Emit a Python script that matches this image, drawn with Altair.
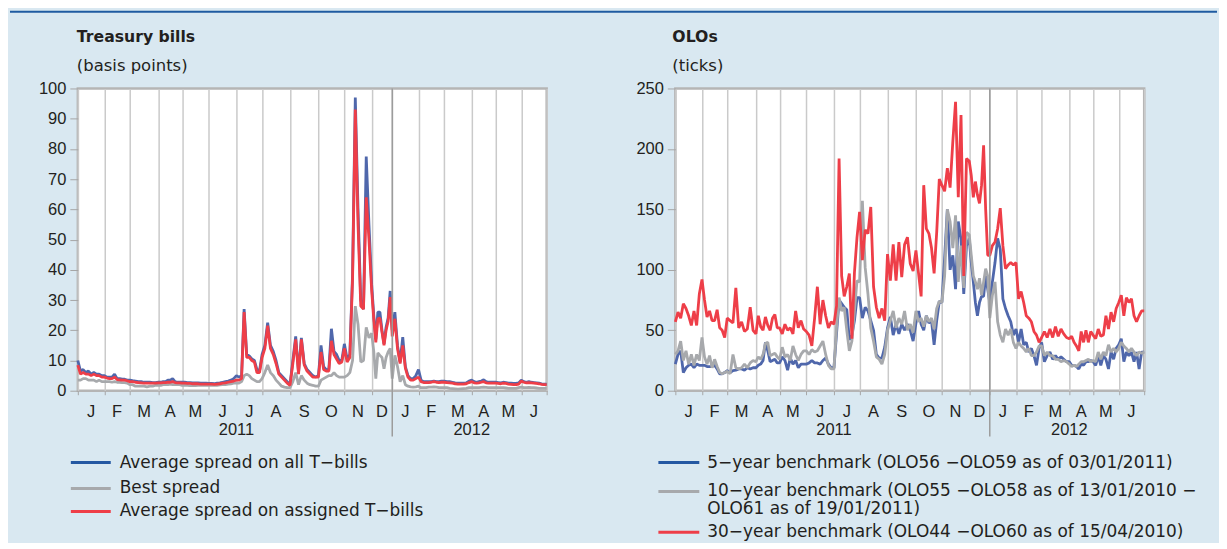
import altair as alt
import pandas as pd

# ---------------- data ----------------
MONTH_LABELS = ["J", "F", "M", "A", "M", "J", "J", "A", "S", "O", "N", "D",
                "J", "F", "M", "A", "M", "J"]
YEAR_LABELS = ["2011", "2012"]
YEAR_LABEL_DATES = ["2011-07-01", "2012-04-01"]
YEAR_BREAK = ["2012-01-01"]

LEFT_TITLE = "Treasury bills"
LEFT_UNIT = "(basis points)"
RIGHT_TITLE = "OLOs"
RIGHT_UNIT = "(ticks)"

LEFT_LEGEND = ["Average spread on all T\u2212bills", "Best spread",
               "Average spread on assigned T\u2212bills"]
RIGHT_LEGEND = ["5\u2212year benchmark (OLO56 \u2212OLO59 as of 03/01/2011)",
                "10\u2212year benchmark (OLO55 \u2212OLO58 as of 13/01/2010 \u2212",
                "OLO61 as of 19/01/2011)",
                "30\u2212year benchmark (OLO44 \u2212OLO60 as of 15/04/2010)"]

# 10 readings per month, Jan 2011 .. Jun 2012, plus the final reading
TB_AVERAGE = [
    10, 6.5, 7, 6, 6.5, 5.5, 6, 5.5, 5.5, 5,
    5, 4.5, 4.5, 4.5, 5.5, 4, 4, 3.8, 3.8, 3.5,
    3.5, 3.3, 3.2, 3, 3, 2.8, 2.8, 2.8, 2.7, 2.7,
    2.8, 2.8, 3, 3, 3.5, 3.5, 4, 3, 2.8, 2.8,
    2.8, 2.8, 2.7, 2.7, 2.6, 2.6, 2.6, 2.5, 2.5, 2.5,
    2.4, 2.4, 2.3, 2.5, 2.6, 2.8, 3, 3.2, 3.5, 4,
    5, 4.5, 5, 27, 12, 11.5, 10.5, 10, 7, 6.5,
    12, 15, 22.5, 15, 13, 10, 6, 5, 4, 3,
    2, 10, 18, 6, 17.5, 9, 7, 6, 5, 4.5,
    5, 15, 8, 7, 7, 20.5, 13, 12, 10, 10,
    15.5, 10.5, 12, 38.6, 97, 60, 30, 27, 77.5, 55,
    35, 25, 17, 26, 26, 20, 15.5, 21, 24, 33,
    20, 26, 15, 9.5, 17.7, 8, 5, 4, 4, 5,
    7, 3.5, 3, 3, 3, 3, 3.2, 3, 3, 3.2,
    3.2, 3, 3, 2.8, 2.6, 2.5, 2.5, 2.5, 2.6, 3.2,
    3.5, 3, 2.8, 3, 3.2, 3.6, 3, 2.8, 2.8, 2.8,
    2.8, 2.7, 2.6, 2.8, 2.7, 2.5, 2.5, 2.4, 2.4, 2.6,
    3.5, 3, 2.8, 3, 2.8, 2.7, 2.6, 2.5, 2.3, 2.2,
    2.2,
]
TB_BEST = [
    3.5, 3.5, 4, 4, 3.5, 3.5, 3.5, 3, 3.5, 3,
    3, 3, 3, 2.8, 3, 2.8, 2.8, 2.7, 2.7, 2.5,
    2, 2, 1.5, 1.5, 1.5, 1.5, 1.3, 1.5, 1.5, 1.8,
    1.8, 1.8, 2, 2, 2, 2.2, 2, 2, 2, 2,
    1.8, 1.8, 1.8, 1.7, 1.7, 1.7, 1.8, 1.8, 1.8, 1.8,
    1.8, 1.8, 1.8, 1.8, 1.9, 2, 2, 2.2, 2.3, 2.5,
    2.5, 2.5, 3, 5, 5.5, 5, 4, 3.5, 3, 3,
    4, 6, 8.5, 6, 5, 3.5, 2.5, 1.5, 1.2, 1,
    1, 3, 6, 2, 5, 3.5, 2.5, 2, 1.8, 1.5,
    1.5, 3.5, 4, 4.5, 5, 5, 6, 5, 4.5, 4.5,
    4.5, 5, 6, 10, 28, 22, 9.5, 10, 21, 17.5,
    19, 13, 4, 12.5, 11.7, 11, 7.3, 11, 12.8, 14,
    4, 11.7, 8, 3, 5, 2, 1.5, 1.3, 1.2, 1.3,
    1.5, 1, 1, 1, 1.2, 1.2, 1.3, 1.2, 1, 1,
    1, 1, 0.8, 0.7, 0.6, 0.5, 0.6, 0.7, 0.8, 1,
    1, 1, 1, 1, 1.1, 1.2, 1.1, 1, 1, 1,
    1, 1, 1, 1, 0.9, 0.8, 0.8, 0.8, 0.8, 1,
    1.2, 1, 1, 1.1, 1, 1, 0.9, 0.8, 0.8, 0.8,
    0.8,
]
TB_ASSIGNED = [
    8.5, 5.5, 6, 5.5, 5.5, 5, 5.5, 5, 5, 4.5,
    4.5, 4.2, 4, 4, 4.5, 3.7, 3.6, 3.5, 3.5, 3.3,
    3, 3, 2.8, 2.7, 2.6, 2.5, 2.5, 2.5, 2.5, 2.5,
    2.6, 2.6, 2.7, 2.7, 2.8, 2.8, 3, 2.7, 2.6, 2.6,
    2.5, 2.5, 2.4, 2.4, 2.3, 2.3, 2.3, 2.2, 2.2, 2.2,
    2.2, 2.2, 2.1, 2.2, 2.3, 2.5, 2.6, 2.8, 3, 3.2,
    3.5, 3.5, 4, 26, 11, 11, 10, 9.5, 6, 6,
    11, 14, 21.5, 14, 12, 9, 5.5, 4.5, 3.5, 2.5,
    1.8, 9, 17, 5.5, 17, 8.5, 6.5, 5.5, 4.5, 4.5,
    4.5, 12.8, 7, 6.5, 6.5, 16.5, 12, 10.5, 9, 9.5,
    14, 9.5, 11, 37, 93, 55, 28, 27, 64, 50,
    33, 23.8, 16, 23.8, 24, 19.4, 15, 20, 23, 31,
    18, 23.8, 14, 9, 15, 7.5, 4.5, 3.5, 3.5, 4,
    4.5, 3, 2.7, 2.7, 2.7, 2.8, 3, 2.8, 2.7, 2.8,
    2.8, 2.7, 2.6, 2.5, 2.3, 2.2, 2.2, 2.2, 2.3, 2.7,
    3, 2.6, 2.5, 2.6, 2.8, 3, 2.6, 2.5, 2.5, 2.5,
    2.5, 2.4, 2.3, 2.5, 2.4, 2.2, 2.1, 2, 2, 2.2,
    3.2, 2.8, 2.6, 2.7, 2.6, 2.5, 2.4, 2.3, 2.1, 2,
    2,
]
OLO_5Y = [
    22, 30, 33, 15, 19, 21, 22, 19, 22, 21,
    21, 21, 20, 20, 20, 21, 18, 14, 14, 15,
    16.6, 15, 16.6, 17, 18, 18, 17, 19, 18, 19,
    19, 21, 22, 25, 40, 33, 24, 25, 26, 23,
    23, 28, 25, 17, 27, 22, 25, 19, 22, 22,
    22, 23, 25, 23, 23, 22, 25, 27, 22, 19,
    19, 47, 75, 72, 69, 67, 42, 46, 58, 77,
    77, 60, 69, 66, 58, 50, 30, 27, 27, 36,
    52, 61, 46, 55, 47, 55, 50, 55, 50, 41,
    56, 66, 55, 50, 62, 56, 58, 38, 58, 74,
    73, 110, 150, 100, 112, 84, 140, 125, 80, 120,
    126, 106, 90, 73, 62, 73, 78, 78, 95, 84,
    73, 90, 106, 126, 117, 76, 68, 62, 57, 46,
    51, 40, 51, 38, 40, 32, 35, 29, 21, 35,
    40, 24, 29, 32, 26, 29, 26, 28, 26, 24,
    24, 21, 21, 20, 18, 22, 21, 24, 24, 25,
    24, 21, 29, 21, 29, 26, 18, 32, 26, 35,
    38, 43, 24, 32, 29, 32, 24, 32, 18, 32,
    32,
]
OLO_10Y = [
    30, 33, 41, 25, 33, 22, 30, 21, 30, 25,
    44, 28, 22, 29, 19, 26, 20, 15, 14, 15,
    16, 14, 30, 19, 18, 19, 22, 19, 23, 25,
    24, 28, 26, 30, 39, 40, 29, 30, 31, 28,
    26, 36, 28, 30, 25, 37, 30, 25, 30, 33,
    33, 30, 34, 32, 33, 37, 41, 30, 21, 18,
    18, 52, 77, 66, 69, 50, 33, 41, 66, 91,
    90, 157, 102, 80, 52, 41, 28, 26, 22, 30,
    50, 58, 66, 52, 60, 55, 66, 50, 55, 48,
    66, 57, 60, 53, 62, 57, 60, 51, 68, 74,
    73, 95, 150, 140, 118, 145, 90, 120, 85, 131,
    129, 112, 95, 90, 84, 93, 79, 90, 101, 95,
    60, 79, 90, 57, 46, 40, 51, 46, 51, 40,
    35, 40, 37, 35, 32, 35, 29, 29, 32, 37,
    37, 29, 32, 29, 29, 26, 26, 24, 25, 24,
    22, 20, 21, 20, 22, 24, 24, 25, 26, 24,
    25, 24, 32, 26, 32, 29, 38, 32, 35, 32,
    35, 40, 37, 35, 32, 35, 32, 29, 32, 31,
    32,
]
OLO_30Y = [
    57, 65, 60, 72, 68, 62, 54, 66, 54, 80,
    92, 75, 61, 66, 58, 58, 67, 52, 50, 44,
    60, 58, 56, 85, 52, 57, 49, 51, 69, 50,
    47, 62, 53, 50, 61, 54, 50, 60, 63, 52,
    52, 47, 55, 50, 52, 47, 66, 52, 58, 51,
    49, 46, 37, 60, 86, 55, 75, 62, 52, 57,
    55, 70, 192, 95, 78, 86, 97, 43, 98, 127,
    148, 108, 133, 130, 152, 86, 69, 60, 68, 58,
    113, 91, 121, 91, 123, 94, 121, 127, 105, 99,
    116, 97, 78, 170, 134, 130, 118, 97, 131, 175,
    170, 165, 184, 168, 206, 239, 160, 228, 95, 192,
    190, 178, 160, 173, 162, 155, 170, 203, 150, 112,
    112, 120, 123, 134, 151, 120, 101, 104, 106, 104,
    106, 76, 82, 73, 62, 60, 57, 49, 46, 40,
    44, 49, 44, 51, 44, 53, 45, 51, 47, 44,
    43, 45, 40, 37, 33, 49, 40, 50, 40, 49,
    46, 43, 51, 45, 46, 62, 51, 65, 57, 68,
    73, 79, 62, 77, 73, 76, 62, 57, 62, 66,
    66,
]

# ---------------- styles / layout ----------------
BG = "#d9e8f1"
TOP_LINE = "#1f5ba1"
BLUE = "#4f67ab"
BLUE_KEY = "#2458a2"
GREY = "#a7a9ac"
RED = "#ee3e48"
TEXT = "#231f20"
W, H = 470, 303
GAP = 129  # distance between the two plot areas

ORIGIN = pd.Timestamp("2011-01-01")
MONTH_STARTS = pd.date_range("2011-01-01", "2012-07-01", freq="MS")


def day_no(ts):
    return (pd.Timestamp(ts) - ORIGIN) / pd.Timedelta(days=1)


DATES = []
for s, e in zip(MONTH_STARTS[:-1], MONTH_STARTS[1:]):
    for i in range(10):
        DATES.append(s + (e - s) * i / 10)
DATES.append(MONTH_STARTS[-1])
DAYS = [day_no(d) for d in DATES]
MID_MONTH_DAYS = [day_no(s + (e - s) / 2) for s, e in zip(MONTH_STARTS[:-1], MONTH_STARTS[1:])]
MONTH_START_DAYS = [day_no(s) for s in MONTH_STARTS]

# pixel position of each month boundary (the original axis is not calendar-linear)
X_RANGE = [0, 26.7, 52, 80.8, 104.5, 131.3, 159, 184.7, 212.7, 241.2, 267.2,
           294.6, 315.2, 341.5, 367.2, 394.9, 418.8, 444.5, 470]

ONE = pd.DataFrame({"k": [0]})


def xdef():
    return alt.X("day:Q",
                 scale=alt.Scale(domain=MONTH_START_DAYS, range=X_RANGE, nice=False, zero=False),
                 axis=alt.Axis(values=MONTH_START_DAYS, labels=False, title=None, grid=True,
                               gridColor="#cacaca", gridWidth=1.5, domain=False,
                               ticks=True, tickSize=4, tickColor="#a6a6a6"))


def ydef(ymax, step):
    return alt.Y("value:Q",
                 scale=alt.Scale(domain=[0, ymax], nice=False, zero=True),
                 axis=alt.Axis(values=list(range(0, ymax + 1, step)), title=None, grid=False,
                               domain=False, tickColor="#a6a6a6", tickSize=8, labelPadding=4,
                               labelFont="Liberation Sans", labelFontSize=16.5,
                               labelColor=TEXT))


def line_layer(values, color, ymax, step):
    df = pd.DataFrame({"day": DAYS, "value": values})
    return alt.Chart(df).mark_line(color=color, strokeWidth=2.8, strokeJoin="bevel").encode(
        x=xdef(), y=ydef(ymax, step))


def static_text(txt, x, y, size, bold=False, font="DejaVu Sans"):
    return alt.Chart(ONE).mark_text(
        align="left", baseline="middle", font=font, fontSize=size,
        fontWeight="bold" if bold else "normal", color=TEXT
    ).encode(x=alt.value(x), y=alt.value(y), text=alt.value(txt))


def key_line(color, x0, x1, y):
    return alt.Chart(ONE).mark_rule(color=color, strokeWidth=3).encode(
        x=alt.value(x0), x2=alt.value(x1), y=alt.value(y), y2=alt.value(y))


def panel(series, ymax, step, title, unit, title_x, top_band, legend):
    layers = [line_layer(v, c, ymax, step) for v, c in series]
    months = pd.DataFrame({"day": MID_MONTH_DAYS, "label": MONTH_LABELS})
    years = pd.DataFrame({"day": [day_no(d) for d in YEAR_LABEL_DATES], "label": YEAR_LABELS})
    brk = pd.DataFrame({"day": [day_no(d) for d in YEAR_BREAK]})
    layers.append(alt.Chart(brk).mark_rule(color="#9c9c9c", strokeWidth=1.5).encode(
        x=xdef(), y=alt.value(0), y2=alt.value(H + 46)))
    layers.append(alt.Chart(months).mark_text(
        font="Liberation Sans", fontSize=16.5, color=TEXT, baseline="middle", align="center"
    ).encode(x=xdef(), y=alt.value(H + 21), text="label:N"))
    layers.append(alt.Chart(years).mark_text(
        font="Liberation Sans", fontSize=16.5, color=TEXT, baseline="middle", align="center"
    ).encode(x=xdef(), y=alt.value(H + 39), text="label:N"))
    if top_band is not None:
        layers.append(alt.Chart(ONE).mark_rect(color=TOP_LINE).encode(
            x=alt.value(top_band[0]), x2=alt.value(top_band[1]),
            y=alt.value(-78), y2=alt.value(-76)))
    layers.append(static_text(title, title_x, -52, 15.7, bold=True))
    layers.append(static_text(unit, title_x, -23, 16.5))
    for item in legend:
        kind = item[0]
        if kind == "key":
            _, color, x0, x1, y = item
            layers.append(key_line(color, x0, x1, y))
        else:
            _, txt, x, y = item
            layers.append(static_text(txt, x, y, 17))
    return alt.layer(*layers).properties(width=W, height=H)


left = panel(
    [(TB_AVERAGE, BLUE), (TB_BEST, GREY), (TB_ASSIGNED, RED)],
    100, 10, LEFT_TITLE, LEFT_UNIT, -1, (-68, W + GAP + 543),
    [("key", BLUE_KEY, -7, 33, 375), ("text", LEFT_LEGEND[0], 42, 375),
     ("key", GREY, -7, 33, 401), ("text", LEFT_LEGEND[1], 42, 401),
     ("key", RED, -7, 33, 424), ("text", LEFT_LEGEND[2], 42, 424)],
)
right = panel(
    [(OLO_5Y, BLUE), (OLO_10Y, GREY), (OLO_30Y, RED)],
    250, 50, RIGHT_TITLE, RIGHT_UNIT, -3, None,
    [("key", BLUE_KEY, -17, 24, 375), ("text", RIGHT_LEGEND[0], 32, 375),
     ("key", GREY, -17, 24, 404), ("text", RIGHT_LEGEND[1], 32, 404),
     ("text", RIGHT_LEGEND[2], 32, 422),
     ("key", RED, -17, 24, 445), ("text", RIGHT_LEGEND[3], 32, 445)],
)

chart = alt.hconcat(left, right, spacing=GAP, bounds="flush").properties(
    padding=0, background=BG
).configure_view(stroke="#b5b5b5", strokeWidth=2.5, fill="white")

chart.save("out.html", embed_options={"renderer": "svg", "actions": False})
